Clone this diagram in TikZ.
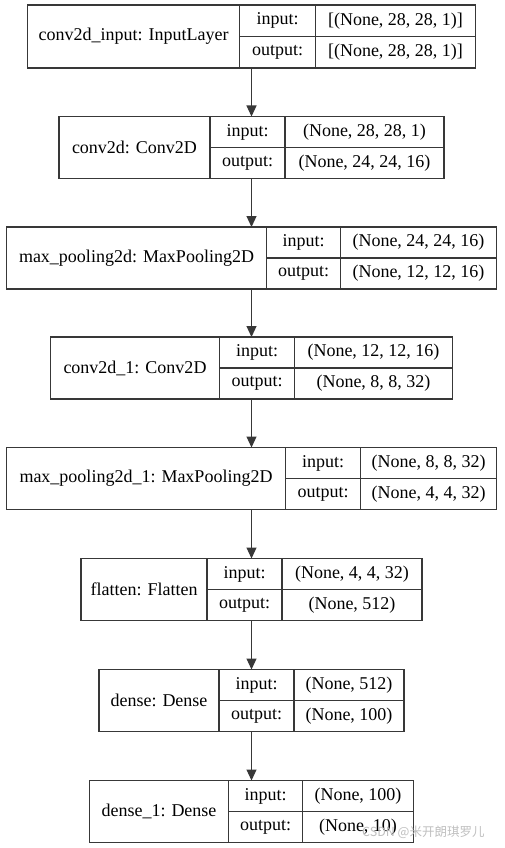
\documentclass[tikz,border=0pt]{standalone}
\usepackage{fontspec}
\setmainfont{Liberation Serif}
\newfontfamily\cjkfont{Noto Sans CJK SC}
\usetikzlibrary{positioning, arrows.meta}

\begin{document}
\begin{tikzpicture}[x=1pt, y=-1pt,
  layer/.style={inner sep=0pt, outer sep=0pt},
  cell/.style={draw=black!78, line width=1.2pt, inner sep=0pt, outer sep=0pt, anchor=north west,
    font=\fontsize{18}{20}\selectfont},
  flow/.style={draw=black!78, line width=1.2pt, -{Triangle[length=11pt, width=10pt]}}]
  \useasboundingbox (0,0) rectangle (504,848);

  % conv2d_input
  \node[layer, minimum width=448, minimum height=63] (conv2dinput) at (251.5,36.5) {};
  \node[cell, minimum width=212, minimum height=63] (conv2dinputname) at (conv2dinput.north west) {conv2d\_input: InputLayer};
  \node[cell, minimum width=76, minimum height=31.5] (conv2dinputin) at (conv2dinputname.north east) {input:};
  \node[cell, minimum width=76, minimum height=31.5] (conv2dinputout) at (conv2dinputin.south west) {output:};
  \node[cell, minimum width=160, minimum height=31.5] (conv2dinputinv) at (conv2dinputin.north east) {[(None, 28, 28, 1)]};
  \node[cell, minimum width=160, minimum height=31.5] (conv2dinputoutv) at (conv2dinputout.north east) {[(None, 28, 28, 1)]};

  % conv2d
  \node[layer, minimum width=385, minimum height=62] (conv2d) at (251.5,147.5) {};
  \node[cell, minimum width=151, minimum height=62] (conv2dname) at (conv2d.north west) {conv2d: Conv2D};
  \node[cell, minimum width=75, minimum height=31] (conv2din) at (conv2dname.north east) {input:};
  \node[cell, minimum width=75, minimum height=31] (conv2dout) at (conv2din.south west) {output:};
  \node[cell, minimum width=159, minimum height=31] (conv2dinv) at (conv2din.north east) {(None, 28, 28, 1)};
  \node[cell, minimum width=159, minimum height=31] (conv2doutv) at (conv2dout.north east) {(None, 24, 24, 16)};

  % max_pooling2d
  \node[layer, minimum width=490, minimum height=62] (maxpool) at (251.5,258) {};
  \node[cell, minimum width=260, minimum height=62] (maxpoolname) at (maxpool.north west) {max\_pooling2d: MaxPooling2D};
  \node[cell, minimum width=74, minimum height=31] (maxpoolin) at (maxpoolname.north east) {input:};
  \node[cell, minimum width=74, minimum height=31] (maxpoolout) at (maxpoolin.south west) {output:};
  \node[cell, minimum width=156, minimum height=31] (maxpoolinv) at (maxpoolin.north east) {(None, 24, 24, 16)};
  \node[cell, minimum width=156, minimum height=31] (maxpooloutv) at (maxpoolout.north east) {(None, 12, 12, 16)};

  % conv2d_1
  \node[layer, minimum width=402, minimum height=62] (conv2dA) at (251.5,368) {};
  \node[cell, minimum width=169, minimum height=62] (conv2dAname) at (conv2dA.north west) {conv2d\_1: Conv2D};
  \node[cell, minimum width=75, minimum height=31] (conv2dAin) at (conv2dAname.north east) {input:};
  \node[cell, minimum width=75, minimum height=31] (conv2dAout) at (conv2dAin.south west) {output:};
  \node[cell, minimum width=158, minimum height=31] (conv2dAinv) at (conv2dAin.north east) {(None, 12, 12, 16)};
  \node[cell, minimum width=158, minimum height=31] (conv2dAoutv) at (conv2dAout.north east) {(None, 8, 8, 32)};

  % max_pooling2d_1
  \node[layer, minimum width=490, minimum height=62] (maxpoolA) at (251.5,478.5) {};
  \node[cell, minimum width=279, minimum height=62] (maxpoolAname) at (maxpoolA.north west) {max\_pooling2d\_1: MaxPooling2D};
  \node[cell, minimum width=75, minimum height=31] (maxpoolAin) at (maxpoolAname.north east) {input:};
  \node[cell, minimum width=75, minimum height=31] (maxpoolAout) at (maxpoolAin.south west) {output:};
  \node[cell, minimum width=136, minimum height=31] (maxpoolAinv) at (maxpoolAin.north east) {(None, 8, 8, 32)};
  \node[cell, minimum width=136, minimum height=31] (maxpoolAoutv) at (maxpoolAout.north east) {(None, 4, 4, 32)};

  % flatten
  \node[layer, minimum width=341, minimum height=62] (flatten) at (251.5,589.5) {};
  \node[cell, minimum width=126, minimum height=62] (flattenname) at (flatten.north west) {flatten: Flatten};
  \node[cell, minimum width=75, minimum height=31] (flattenin) at (flattenname.north east) {input:};
  \node[cell, minimum width=75, minimum height=31] (flattenout) at (flattenin.south west) {output:};
  \node[cell, minimum width=140, minimum height=31] (flatteninv) at (flattenin.north east) {(None, 4, 4, 32)};
  \node[cell, minimum width=140, minimum height=31] (flattenoutv) at (flattenout.north east) {(None, 512)};

  % dense
  \node[layer, minimum width=305, minimum height=62] (dense) at (251.5,700.5) {};
  \node[cell, minimum width=120, minimum height=62] (densename) at (dense.north west) {dense: Dense};
  \node[cell, minimum width=75, minimum height=31] (densein) at (densename.north east) {input:};
  \node[cell, minimum width=75, minimum height=31] (denseout) at (densein.south west) {output:};
  \node[cell, minimum width=110, minimum height=31] (denseinv) at (densein.north east) {(None, 512)};
  \node[cell, minimum width=110, minimum height=31] (denseoutv) at (denseout.north east) {(None, 100)};

  % dense_1
  \node[layer, minimum width=324, minimum height=62] (denseA) at (251.5,811.5) {};
  \node[cell, minimum width=139, minimum height=62] (denseAname) at (denseA.north west) {dense\_1: Dense};
  \node[cell, minimum width=74, minimum height=31] (denseAin) at (denseAname.north east) {input:};
  \node[cell, minimum width=74, minimum height=31] (denseAout) at (denseAin.south west) {output:};
  \node[cell, minimum width=111, minimum height=31] (denseAinv) at (denseAin.north east) {(None, 100)};
  \node[cell, minimum width=111, minimum height=31] (denseAoutv) at (denseAout.north east) {(None, 10)};

  % arrows
  \draw[flow] (conv2dinput) -- (conv2d);
  \draw[flow] (conv2d) -- (maxpool);
  \draw[flow] (maxpool) -- (conv2dA);
  \draw[flow] (conv2dA) -- (maxpoolA);
  \draw[flow] (maxpoolA) -- (flatten);
  \draw[flow] (flatten) -- (dense);
  \draw[flow] (dense) -- (denseA);

  \node[anchor=west, inner sep=0pt, text=black!25, font=\cjkfont\fontsize{12.5}{14}\selectfont] (watermark) at (362,832) {CSDN @米开朗琪罗儿};
\end{tikzpicture}
\end{document}
